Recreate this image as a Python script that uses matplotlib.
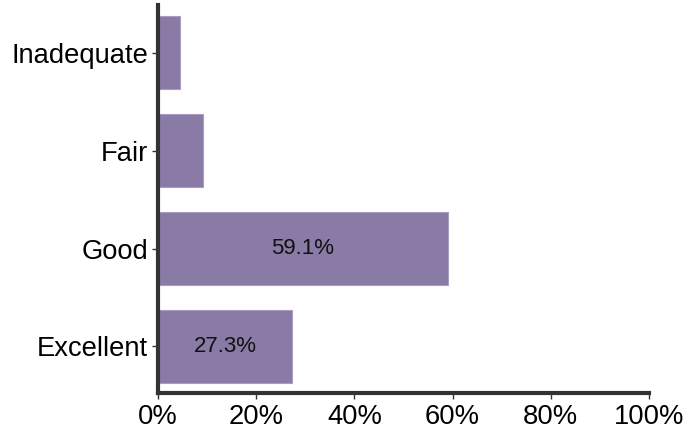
import matplotlib.pyplot as plt

categories = ['Excellent', 'Good', 'Fair', 'Inadequate']
values = [27.3, 59.1, 9.1, 4.5]
labels = ['27.3%', '59.1%', '', '']
ticks = [0, 20, 40, 60, 80, 100]

plt.rcParams['font.family'] = ['Liberation Sans', 'DejaVu Sans']

fig = plt.figure(figsize=(6.83, 4.33), dpi=100)
ax = fig.add_axes([0.2313, 0.0924, 0.7187, 0.8956])

pos = range(len(categories))
bars = ax.barh(pos, values, height=0.745, color='#8a7aa6',
               edgecolor='#a99cc0', linewidth=0.8)
for b, lab in zip(bars, labels):
    if lab:
        ax.text(b.get_width() / 2, b.get_y() + b.get_height() / 2, lab,
                ha='center', va='center', fontsize=16, color='#111111')

ax.set_xlim(0, 100)
ax.set_ylim(-0.475, 3.485)
ax.set_xticks(ticks)
ax.set_xticklabels([f'{t}%' for t in ticks])
ax.set_yticks(list(pos))
ax.set_yticklabels(categories)
ax.tick_params(axis='both', labelsize=19.7, length=4, width=1,
               color='#333333', labelcolor='black', pad=3)
ax.tick_params(axis='x', pad=4)

for s in ['top', 'right']:
    ax.spines[s].set_visible(False)
for s in ['left', 'bottom']:
    ax.spines[s].set_linewidth(3)
    ax.spines[s].set_color('#333333')

plt.savefig('out.png', dpi=100)
